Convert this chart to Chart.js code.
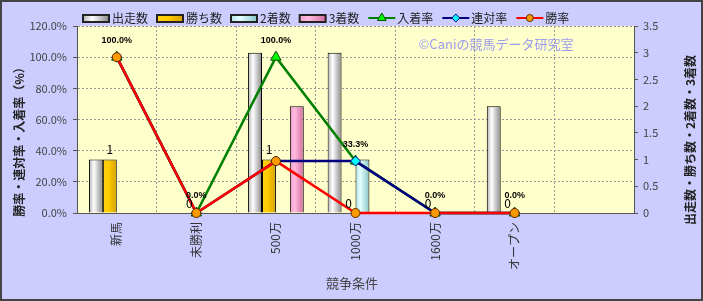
<!DOCTYPE html>
<html>
<head>
<meta charset="utf-8">
<script src="https://cdn.jsdelivr.net/npm/chart.js@4.4.0/dist/chart.umd.min.js"></script>
<style>
	html, body { margin: 0; padding: 0; background: #ccccff; }
	#wrap { width: 703px; height: 301px; }
</style>
</head>
<body>
<div id="wrap"><canvas id="chart" width="703" height="301"></canvas></div>
<script>
// |------------|
// |   Données   |
// |------------|

const categories = ['新馬', '未勝利', '500万', '1000万', '1600万', 'オープン', '']
const starts = [1, 0, 3, 3, 0, 2, null]
const wins = [1, 0, 1, 0, 0, 0, null]
const seconds = [0, 0, 0, 1, 0, 0, null]
const thirds = [0, 0, 2, 0, 0, 0, null]
const placeRate = [100, 0, 100, 33.3, 0, 0, null]
const rentaiRate = [100, 0, 33.3, 33.3, 0, 0, null]
const winRate = [100, 0, 33.3, 0, 0, 0, null]

const leftTitle = '勝率・連対率・入着率（%）'
const rightTitle = '出走数・勝ち数・2着数・3着数'
const xTitle = '競争条件'
const watermark = '©Caniの競馬データ研究室'

const JP = '"Noto Sans CJK JP", sans-serif'
Chart.defaults.font.family = JP

// dégradés des barres (effet cylindre)
const shades = {
	'出走数': [[0, '#b0b0b0'], [0.35, '#ffffff'], [1, '#888888']],
	'勝ち数': [[0, '#ffd21a'], [0.4, '#ffcc00'], [1, '#d6a000']],
	'2着数': [[0, '#b4e4e4'], [0.35, '#e4ffff'], [1, '#88c4c4']],
	'3着数': [[0, '#f0a0c8'], [0.35, '#ffbade'], [1, '#d06c9c']]
}

function barDataset(label, data, order) {
	return {
		type: 'bar', label: label, data: data, yAxisID: 'y1', order: order,
		backgroundColor: shades[label][1][1], borderColor: '#000', borderWidth: 1,
		categoryPercentage: 0.7, barPercentage: 1.0
	}
}

function lineDataset(label, data, color, style, fillColor, edgeColor, radius, order) {
	return {
		type: 'line', label: label, data: data, yAxisID: 'y', order: order,
		borderColor: color, backgroundColor: fillColor, borderWidth: 2.5,
		pointStyle: style, pointRadius: radius, pointBackgroundColor: fillColor,
		pointBorderColor: edgeColor, pointBorderWidth: 1, tension: 0, clip: false
	}
}

// |-------------|
// |   Plugins   |
// |-------------|

const background = {
	id: 'background',
	beforeDraw(chart) {
		const { ctx, chartArea: a } = chart
		ctx.save()
		ctx.fillStyle = '#ccccff'
		ctx.fillRect(0, 0, chart.width, chart.height)
		ctx.fillStyle = '#ffffcc'
		ctx.fillRect(a.left, a.top, a.right - a.left, a.bottom - a.top)
		ctx.strokeStyle = '#444'
		ctx.lineWidth = 2
		ctx.strokeRect(1, 1, chart.width - 2, chart.height - 2)
		// filigrane
		ctx.font = '13px ' + JP
		ctx.fillStyle = '#9c9cf0'
		ctx.textAlign = 'center'
		ctx.textBaseline = 'middle'
		ctx.fillText(watermark, 496, 44)
		ctx.restore()
	}
}

const barShade = {
	id: 'barShade',
	beforeDatasetsDraw(chart) {
		const ctx = chart.ctx
		chart.data.datasets.forEach((ds, i) => {
			if (ds.type !== 'bar') return
			chart.getDatasetMeta(i).data.forEach(el => {
				const g = ctx.createLinearGradient(el.x - el.width / 2, 0, el.x + el.width / 2, 0)
				shades[ds.label].forEach(s => g.addColorStop(s[0], s[1]))
				el.options = Object.assign({}, el.options, { backgroundColor: g })
			})
		})
	}
}

const valueLabels = {
	id: 'valueLabels',
	afterDatasetsDraw(chart) {
		const ctx = chart.ctx
		ctx.save()
		ctx.fillStyle = '#000'
		ctx.textAlign = 'center'
		// nombre de victoires au-dessus des barres
		ctx.font = '12px ' + JP
		ctx.textBaseline = 'bottom'
		chart.getDatasetMeta(1).data.forEach((el, j) => {
			if (wins[j] == null) return
			ctx.fillText(String(wins[j]), el.x, el.y - 4)
		})
		// taux d'entrée au-dessus des points
		ctx.font = 'bold 9px "Liberation Sans", sans-serif'
		ctx.textBaseline = 'middle'
		chart.getDatasetMeta(4).data.forEach((el, j) => {
			if (placeRate[j] == null) return
			ctx.fillText(placeRate[j].toFixed(1) + '%', el.x, el.y - 17)
		})
		ctx.restore()
	}
}

const legendAndTitles = {
	id: 'legendAndTitles',
	afterDraw(chart) {
		const ctx = chart.ctx
		ctx.save()
		// légende
		let x = 83
		const cy = 18
		ctx.font = '12px ' + JP
		ctx.textBaseline = 'middle'
		ctx.textAlign = 'left'
		chart.data.datasets.forEach(ds => {
			if (ds.type === 'bar') {
				const g = ctx.createLinearGradient(x, 0, x + 26, 0)
				shades[ds.label].forEach(s => g.addColorStop(s[0], s[1]))
				ctx.fillStyle = g
				ctx.fillRect(x, cy - 3, 26, 7)
				ctx.strokeStyle = '#222'
				ctx.lineWidth = 2
				ctx.strokeRect(x, cy - 3, 26, 7)
			} else {
				ctx.strokeStyle = ds.borderColor
				ctx.lineWidth = 2
				ctx.beginPath()
				ctx.moveTo(x, cy)
				ctx.lineTo(x + 27, cy)
				ctx.stroke()
				ctx.fillStyle = ds.pointBackgroundColor
				ctx.strokeStyle = ds.pointBorderColor
				ctx.lineWidth = 1
				Chart.helpers.drawPoint(ctx, { pointStyle: ds.pointStyle, radius: ds.pointRadius - 1, rotation: 0, borderWidth: 1 }, x + 13.5, cy)
			}
			ctx.fillStyle = '#222'
			ctx.fillText(ds.label, x + 29, cy)
			x += 29 + ctx.measureText(ds.label).width + 9
		})
		// titres des axes
		ctx.textAlign = 'center'
		ctx.font = 'bold 12px ' + JP
		ctx.fillStyle = '#222'
		ctx.save()
		ctx.translate(19, 139)
		ctx.rotate(-Math.PI / 2)
		ctx.fillText(leftTitle, 0, 0)
		ctx.restore()
		ctx.save()
		ctx.translate(690, 140)
		ctx.rotate(-Math.PI / 2)
		ctx.fillText(rightTitle, 0, 0)
		ctx.restore()
		ctx.font = '13px ' + JP
		ctx.fillStyle = '#444'
		ctx.fillText(xTitle, 352, 283)
		ctx.restore()
	}
}

// |-----------|
// |   Chart   |
// |-----------|

const gridColor = '#9a9a9a'

new Chart(document.getElementById('chart'), {
	type: 'bar',
	data: {
		labels: categories,
		datasets: [
			barDataset('出走数', starts, 3),
			barDataset('勝ち数', wins, 4),
			barDataset('2着数', seconds, 5),
			barDataset('3着数', thirds, 6),
			lineDataset('入着率', placeRate, '#008000', 'triangle', '#00ff00', '#005000', 6, 2),
			lineDataset('連対率', rentaiRate, '#000080', 'rectRot', '#00ffff', '#000080', 5, 1),
			lineDataset('勝率', winRate, '#ff0000', 'circle', '#ff9900', '#5a2a00', 4.5, 0)
		]
	},
	options: {
		responsive: false,
		animation: false,
		events: [],
		layout: { padding: { top: 26, left: 0, right: 0, bottom: 0 } },
		plugins: {
			legend: { display: false },
			tooltip: { enabled: false }
		},
		scales: {
			x: {
				offset: true,
				grid: {
					offset: true,
					drawTicks: false,
					color: (c) => (c.index === 0 || c.index === categories.length) ? 'rgba(0,0,0,0)' : gridColor
				},
				border: { display: true, color: '#555', width: 1, dash: [2, 2] },
				ticks: {
					autoSkip: false, maxRotation: 90, minRotation: 90, padding: 9,
					color: '#333', font: { size: 12, family: JP }
				},
				afterFit: (s) => { s.height = 88 }
			},
			y: {
				position: 'left',
				min: 0, max: 120,
				grid: {
					drawTicks: true, tickLength: 4, tickColor: '#555',
					color: (c) => c.index === 0 ? 'rgba(0,0,0,0)' : gridColor
				},
				border: { display: true, color: '#555', width: 1, dash: [2, 2] },
				ticks: {
					stepSize: 20, padding: 6, color: '#444',
					font: { size: 11, family: JP },
					callback: (v) => v.toFixed(1) + '%'
				},
				afterFit: (s) => { s.width = 77 }
			},
			y1: {
				position: 'right',
				min: 0, max: 3.5,
				grid: { drawOnChartArea: false, drawTicks: true, tickLength: 4, tickColor: '#555' },
				border: { display: true, color: '#555', width: 1 },
				ticks: {
					stepSize: 0.5, padding: 5, color: '#444',
					font: { size: 11, family: JP },
					callback: (v) => String(v)
				},
				afterFit: (s) => { s.width = 69 }
			}
		}
	},
	plugins: [background, barShade, valueLabels, legendAndTitles]
})
</script>
</body>
</html>
